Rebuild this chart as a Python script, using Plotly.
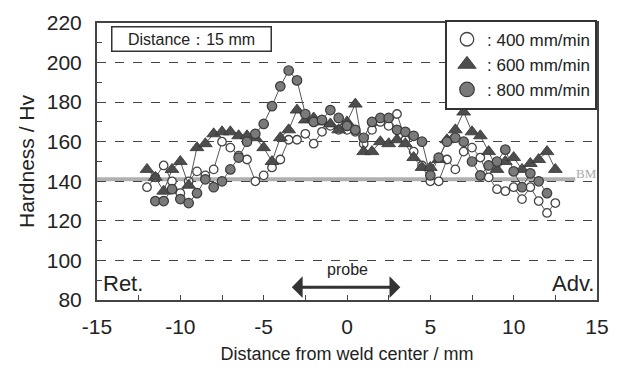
import plotly.graph_objects as go

x400 = [-12, -11.5, -11, -10.5, -10, -9.5, -9, -8.5, -8, -7.5, -7, -6.5, -6, -5.5, -5, -4.5, -4, -3.5, -3, -2.5,
        -2, -1.5, -1, -0.5, 0, 0.5, 1, 1.5, 2, 2.5, 3, 3.5, 4, 4.5, 5, 5.5, 6, 6.5, 7, 7.5,
        8, 8.5, 9, 9.5, 10, 10.5, 11, 11.5, 12, 12.5]
h400 = [137, 142, 148, 140, 134, 140, 145, 143, 146, 160, 157, 153, 151, 140, 143, 147, 151, 161, 161, 164,
        159, 165, 168, 166, 166, 165, 159, 166, 170, 168, 174, 161, 155, 148, 140, 140, 151, 146, 155, 157,
        152, 142, 136, 135, 137, 131, 137, 130, 124, 129]

x600 = [-12, -11.5, -11, -10.5, -10, -9.5, -9, -8.5, -8, -7.5, -7, -6.5, -6, -5.5, -5, -4.5, -4, -3.5, -3, -2.5,
        -2, -1.5, -1, -0.5, 0, 0.5, 1, 1.5, 2, 2.5, 3, 3.5, 4, 4.5, 5, 5.5, 6, 6.5, 7, 7.5,
        8, 8.5, 9, 9.5, 10, 10.5, 11, 11.5, 12, 12.5]
h600 = [146, 142, 135, 146, 150, 138, 157, 159, 164, 165, 165, 163, 163, 162, 157, 150, 162, 166, 176, 171,
        172, 170, 169, 166, 170, 179, 155, 155, 160, 159, 161, 159, 152, 147, 147, 151, 161, 166, 175, 165,
        163, 155, 146, 150, 152, 146, 149, 151, 155, 146]

x800 = [-11.5, -11, -10.5, -10, -9.5, -9, -8.5, -8, -7.5, -7, -6.5, -6, -5.5, -5, -4.5, -4, -3.5, -3, -2.5,
        -2, -1.5, -1, -0.5, 0, 0.5, 1, 1.5, 2, 2.5, 3, 3.5, 4, 4.5, 5, 5.5, 6, 6.5, 7, 7.5,
        8, 8.5, 9, 9.5, 10, 10.5, 11, 11.5, 12]
h800 = [130, 130, 136, 131, 129, 134, 141, 137, 140, 146, 152, 160, 164, 169, 178, 188, 196, 191, 174,
        170, 171, 176, 172, 168, 166, 162, 170, 172, 172, 166, 165, 163, 160, 143, 152, 160, 162, 160, 150,
        143, 148, 150, 156, 145, 137, 144, 140, 134]

legend_names = [": 400 mm/min", ": 600 mm/min", ": 800 mm/min"]
x_tickvals = [-15, -10, -5, 0, 5, 10, 15]
x_ticktext = ["-15", "-10", "-5", "0", "5", "10", "15"]
y_tickvals = [80, 100, 120, 140, 160, 180, 200, 220]
y_ticktext = ["80", "100", "120", "140", "160", "180", "200", "220"]
bm_level = 141

FONT = "Liberation Sans"
TXT = "#222222"

fig = go.Figure()

line_col = "#555555"
styles = [
    dict(symbol="circle", size=8.5, color="white", line=dict(color="#444444", width=1.3)),
    dict(symbol="triangle-up", size=12, color="#4d4d4d", line=dict(color="#333333", width=0.8)),
    dict(symbol="circle", size=9.5, color="#7a7a7a", line=dict(color="#3a3a3a", width=1.2)),
]

# BM line (under data)
fig.add_shape(type="line", xref="x", yref="y", x0=-15, x1=13.7, y0=bm_level, y1=bm_level,
              line=dict(color="#b0b0b0", width=4), layer="below")

for xs, hs, st in [(x400, h400, styles[0]), (x600, h600, styles[1]), (x800, h800, styles[2])]:
    fig.add_trace(go.Scatter(x=xs, y=hs, mode="lines+markers",
                             line=dict(color=line_col, width=1),
                             marker=st, showlegend=False))

for name, st in zip(legend_names, styles):
    big = dict(st)
    big["size"] = st["size"] + 5
    fig.add_trace(go.Scatter(x=[None], y=[None], mode="markers", name=name, marker=big))

fig.add_annotation(x=14.35, y=bm_level + 3, text="BM", showarrow=False,
                   font=dict(size=13, color="#aaaaaa", family="Liberation Serif"))

# probe arrow
fig.add_annotation(x=3.2, y=86.5, ax=-3.4, ay=86.5, xref="x", yref="y", axref="x", ayref="y",
                   text="", showarrow=True, arrowhead=1, arrowside="end+start",
                   arrowwidth=3, arrowsize=1.2, arrowcolor="#333333")
fig.add_annotation(x=0, y=95.5, text="probe", showarrow=False,
                   font=dict(size=16, color=TXT, family=FONT))

fig.add_annotation(x=-14.75, y=88.5, text="Ret.", showarrow=False, xanchor="left",
                   font=dict(size=22, color=TXT, family=FONT))
fig.add_annotation(x=14.95, y=88.5, text="Adv.", showarrow=False, xanchor="right",
                   font=dict(size=22, color=TXT, family=FONT))

fig.add_annotation(xref="paper", yref="paper", x=0.028, y=0.99, xanchor="left", yanchor="top",
                   text="Distance：15 mm", showarrow=False,
                   font=dict(size=16, color=TXT, family=FONT),
                   bordercolor="#333333", borderwidth=1.5, borderpad=3, bgcolor="white",
                   width=152, align="center")

axis_common = dict(showline=True, linecolor="#444444", linewidth=2, mirror=True,
                   ticks="inside", tickcolor="#444444", ticklen=5, zeroline=False,
                   automargin=False,
                   tickfont=dict(size=21, color=TXT, family=FONT))

fig.update_xaxes(range=[-15, 15], tickmode="array", tickvals=x_tickvals, ticktext=x_ticktext,
                 showgrid=False, ticklabelstandoff=7,
                 minor=dict(dtick=2.5, tick0=-15, ticks="inside", ticklen=5, tickcolor="#444444", showgrid=False),
                 title=dict(text="Distance from weld center / mm",
                            font=dict(size=18, color=TXT, family=FONT), standoff=10),
                 **axis_common)
fig.update_yaxes(range=[80, 220], tickmode="array", tickvals=y_tickvals, ticktext=y_ticktext,
                 showgrid=True, gridcolor="#444444", griddash="dash", gridwidth=1, ticklabelstandoff=9,
                 minor=dict(dtick=10, tick0=80, ticks="inside", ticklen=5, tickcolor="#444444", showgrid=False),
                 title=dict(text="Hardness / Hv",
                            font=dict(size=21, color=TXT, family=FONT), standoff=6),
                 **axis_common)

fig.update_layout(
    width=614, height=368,
    margin=dict(l=89, r=25, t=12, b=76),
    paper_bgcolor="white", plot_bgcolor="white",
    legend=dict(x=1.0, y=1.012, xanchor="right", yanchor="top",
                bordercolor="#333333", borderwidth=2, bgcolor="white",
                font=dict(size=17, color=TXT, family=FONT),
                itemsizing="trace", tracegroupgap=0),
)

fig.write_html("out.html")
